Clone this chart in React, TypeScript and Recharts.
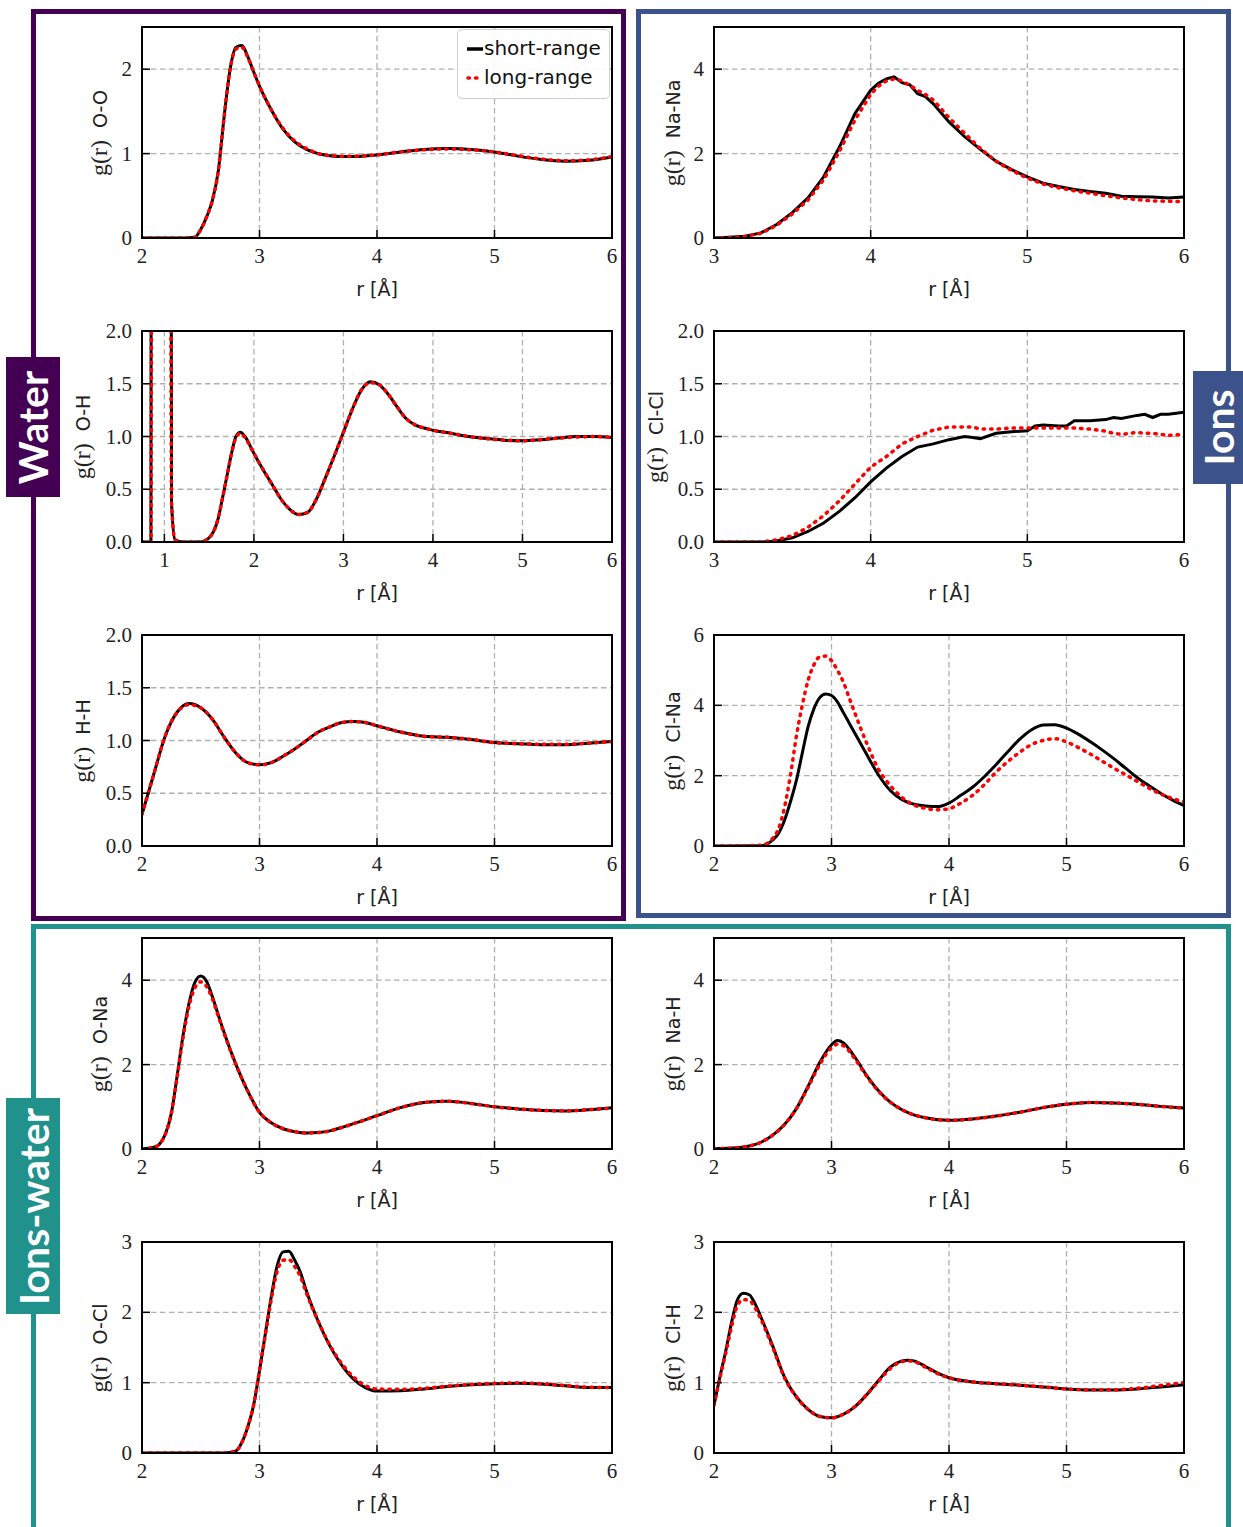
import { LineChart, Line, XAxis, YAxis, CartesianGrid } from 'recharts';

// ---- data: radial distribution functions g(r), short-range vs long-range model ----

const ooR = [2.0, 2.3, 2.45, 2.5, 2.55, 2.6, 2.65, 2.7, 2.75, 2.8, 2.85, 2.9, 2.95, 3.0, 3.1, 3.2, 3.3, 3.4, 3.5, 3.6, 3.7, 3.8, 4.0, 4.2, 4.4, 4.6, 4.8, 5.0, 5.2, 5.4, 5.6, 5.8, 6.0];
const ooShort = [0, 0, 0.01, 0.1, 0.25, 0.45, 0.8, 1.45, 2.0, 2.26, 2.28, 2.15, 1.97, 1.8, 1.52, 1.29, 1.14, 1.05, 1.0, 0.975, 0.965, 0.965, 0.985, 1.02, 1.05, 1.06, 1.05, 1.02, 0.97, 0.93, 0.91, 0.92, 0.96];
const ooLong = [0, 0, 0.01, 0.1, 0.25, 0.45, 0.8, 1.45, 2.0, 2.24, 2.26, 2.14, 1.97, 1.8, 1.52, 1.3, 1.15, 1.06, 1.0, 0.975, 0.97, 0.97, 0.985, 1.02, 1.045, 1.055, 1.045, 1.02, 0.975, 0.935, 0.915, 0.925, 0.965];

const ohR = [0.75, 0.85, 0.88, 0.95, 1.0, 1.05, 1.08, 1.12, 1.2, 1.3, 1.4, 1.45, 1.5, 1.55, 1.6, 1.65, 1.7, 1.75, 1.8, 1.85, 1.9, 2.0, 2.1, 2.2, 2.3, 2.4, 2.5, 2.6, 2.7, 2.8, 2.9, 3.0, 3.1, 3.2, 3.3, 3.4, 3.5, 3.6, 3.7, 3.8, 3.9, 4.0, 4.2, 4.4, 4.6, 4.8, 5.0, 5.2, 5.4, 5.6, 5.8, 6.0];
const ohShort = [0, 0, 40, 90, 70, 20, 0.37, 0.02, 0, 0, 0, 0.01, 0.04, 0.1, 0.22, 0.42, 0.63, 0.84, 1.0, 1.04, 1.0, 0.84, 0.69, 0.55, 0.41, 0.31, 0.26, 0.28, 0.41, 0.61, 0.82, 1.04, 1.26, 1.44, 1.52, 1.49, 1.4, 1.28, 1.17, 1.11, 1.08, 1.06, 1.03, 1.0, 0.98, 0.965, 0.96, 0.97, 0.985, 1.0, 1.0, 0.99];
const ohLong = [0, 0, 40, 90, 70, 20, 0.37, 0.02, 0, 0, 0, 0.01, 0.04, 0.1, 0.22, 0.42, 0.63, 0.84, 0.99, 1.03, 0.99, 0.84, 0.69, 0.55, 0.41, 0.31, 0.26, 0.28, 0.41, 0.61, 0.82, 1.04, 1.26, 1.44, 1.51, 1.49, 1.4, 1.28, 1.17, 1.11, 1.08, 1.06, 1.03, 1.0, 0.98, 0.965, 0.96, 0.97, 0.985, 0.995, 1.0, 0.99];

const hhR = [2.0, 2.1, 2.2, 2.3, 2.4, 2.5, 2.6, 2.7, 2.8, 2.9, 3.0, 3.1, 3.2, 3.3, 3.4, 3.5, 3.6, 3.7, 3.8, 3.9, 4.0, 4.2, 4.4, 4.6, 4.8, 5.0, 5.2, 5.4, 5.6, 5.8, 6.0];
const hhShort = [0.3, 0.68, 1.05, 1.27, 1.35, 1.31, 1.2, 1.03, 0.88, 0.79, 0.77, 0.79, 0.85, 0.92, 1.0, 1.08, 1.13, 1.17, 1.18, 1.17, 1.14, 1.08, 1.04, 1.03, 1.01, 0.98, 0.97, 0.96, 0.96, 0.975, 0.99];
const hhLong = [0.3, 0.68, 1.05, 1.27, 1.34, 1.31, 1.2, 1.03, 0.88, 0.79, 0.77, 0.79, 0.85, 0.92, 1.0, 1.08, 1.13, 1.17, 1.18, 1.17, 1.14, 1.08, 1.04, 1.03, 1.01, 0.98, 0.97, 0.965, 0.965, 0.975, 0.99];

const nanaR = [3.0, 3.1, 3.2, 3.3, 3.4, 3.5, 3.6, 3.7, 3.8, 3.9, 4.0, 4.05, 4.1, 4.15, 4.2, 4.25, 4.3, 4.35, 4.4, 4.5, 4.6, 4.7, 4.8, 4.9, 5.0, 5.1, 5.2, 5.3, 5.4, 5.5, 5.6, 5.7, 5.8, 5.9, 6.0];
const nanaShort = [0, 0.02, 0.04, 0.12, 0.32, 0.6, 0.95, 1.45, 2.15, 2.95, 3.5, 3.67, 3.77, 3.82, 3.68, 3.63, 3.42, 3.35, 3.18, 2.75, 2.4, 2.1, 1.82, 1.62, 1.45, 1.3, 1.22, 1.15, 1.1, 1.06, 0.99, 0.98, 0.97, 0.95, 0.97];
const nanaLong = [0, 0.01, 0.04, 0.11, 0.3, 0.57, 0.9, 1.38, 2.05, 2.8, 3.4, 3.6, 3.72, 3.77, 3.72, 3.62, 3.5, 3.4, 3.27, 2.85, 2.48, 2.12, 1.82, 1.6, 1.42, 1.28, 1.19, 1.12, 1.06, 1.0, 0.95, 0.91, 0.88, 0.87, 0.86];

const clclR = [3.0, 3.3, 3.4, 3.5, 3.6, 3.7, 3.8, 3.9, 4.0, 4.1, 4.2, 4.3, 4.4, 4.5, 4.6, 4.65, 4.7, 4.8, 4.9, 5.0, 5.05, 5.1, 5.2, 5.25, 5.3, 5.4, 5.5, 5.55, 5.6, 5.7, 5.75, 5.8, 5.85, 5.9, 6.0];
const clclShort = [0, 0, 0.01, 0.04, 0.1, 0.18, 0.29, 0.42, 0.57, 0.7, 0.81, 0.9, 0.93, 0.97, 1.0, 0.99, 0.98, 1.03, 1.045, 1.055, 1.1, 1.11, 1.1, 1.1, 1.15, 1.15, 1.16, 1.18, 1.17, 1.2, 1.21, 1.18, 1.21, 1.21, 1.23];
const clclLong = [0, 0, 0.02, 0.06, 0.14, 0.25, 0.39, 0.55, 0.71, 0.81, 0.93, 1.0, 1.06, 1.09, 1.09, 1.09, 1.07, 1.07, 1.08, 1.08, 1.08, 1.08, 1.08, 1.08, 1.08, 1.07, 1.05, 1.03, 1.02, 1.04, 1.03, 1.03, 1.02, 1.01, 1.02];

const clnaR = [2.0, 2.4, 2.45, 2.5, 2.55, 2.6, 2.65, 2.7, 2.75, 2.8, 2.85, 2.9, 2.95, 3.0, 3.05, 3.1, 3.15, 3.2, 3.3, 3.4, 3.5, 3.6, 3.7, 3.8, 3.9, 4.0, 4.1, 4.2, 4.3, 4.4, 4.5, 4.6, 4.7, 4.8, 4.9, 5.0, 5.1, 5.2, 5.3, 5.4, 5.5, 5.6, 5.7, 5.8, 5.9, 6.0];
const clnaShort = [0, 0.01, 0.05, 0.17, 0.36, 0.73, 1.25, 1.85, 2.62, 3.38, 3.9, 4.22, 4.32, 4.28, 4.1, 3.8, 3.5, 3.2, 2.6, 2.02, 1.58, 1.32, 1.19, 1.14, 1.12, 1.22, 1.44, 1.67, 1.97, 2.31, 2.68, 3.03, 3.3, 3.44, 3.45, 3.35, 3.18, 2.97, 2.74, 2.49, 2.22, 1.95, 1.72, 1.5, 1.31, 1.15];
const clnaLong = [0, 0.02, 0.07, 0.22, 0.5, 1.1, 2.0, 3.1, 3.98, 4.7, 5.15, 5.38, 5.4, 5.27, 5.0, 4.67, 4.22, 3.77, 2.92, 2.18, 1.72, 1.38, 1.17, 1.07, 1.03, 1.06, 1.22, 1.44, 1.74, 2.1, 2.4, 2.66, 2.88, 3.0, 3.05, 2.96, 2.8, 2.62, 2.42, 2.22, 2.03, 1.84, 1.65, 1.48, 1.35, 1.25];

const onaR = [2.0, 2.1, 2.15, 2.2, 2.25, 2.3, 2.35, 2.4, 2.45, 2.5, 2.55, 2.6, 2.65, 2.7, 2.8, 2.9, 3.0, 3.1, 3.2, 3.3, 3.4, 3.5, 3.6, 3.7, 3.8, 4.0, 4.2, 4.4, 4.6, 4.8, 5.0, 5.2, 5.4, 5.6, 5.8, 6.0];
const onaShort = [0, 0.04, 0.12, 0.36, 0.85, 1.75, 2.7, 3.45, 3.95, 4.1, 3.97, 3.6, 3.17, 2.75, 2.0, 1.37, 0.87, 0.62, 0.48, 0.41, 0.38, 0.39, 0.43, 0.51, 0.6, 0.79, 0.98, 1.1, 1.13, 1.08, 1.0, 0.95, 0.91, 0.9, 0.93, 0.98];
const onaLong = [0, 0.04, 0.12, 0.36, 0.85, 1.72, 2.65, 3.38, 3.82, 3.96, 3.85, 3.55, 3.14, 2.73, 2.0, 1.37, 0.87, 0.62, 0.48, 0.41, 0.38, 0.39, 0.43, 0.51, 0.6, 0.79, 0.98, 1.1, 1.13, 1.08, 1.0, 0.95, 0.915, 0.905, 0.93, 0.97];

const nahR = [2.0, 2.2, 2.3, 2.4, 2.5, 2.6, 2.7, 2.8, 2.9, 3.0, 3.05, 3.1, 3.2, 3.3, 3.4, 3.5, 3.6, 3.7, 3.8, 4.0, 4.2, 4.4, 4.6, 4.8, 5.0, 5.2, 5.4, 5.6, 5.8, 6.0];
const nahShort = [0.01, 0.03, 0.07, 0.16, 0.33, 0.58, 0.95, 1.48, 2.05, 2.47, 2.57, 2.52, 2.17, 1.74, 1.38, 1.11, 0.93, 0.81, 0.74, 0.68, 0.71, 0.78, 0.87, 0.98, 1.06, 1.1, 1.09, 1.06, 1.01, 0.97];
const nahLong = [0.01, 0.03, 0.07, 0.16, 0.33, 0.58, 0.95, 1.46, 2.0, 2.4, 2.48, 2.45, 2.13, 1.72, 1.37, 1.11, 0.93, 0.81, 0.74, 0.68, 0.71, 0.78, 0.87, 0.98, 1.06, 1.1, 1.09, 1.06, 1.01, 0.97];

const oclR = [2.0, 2.7, 2.8, 2.85, 2.9, 2.95, 3.0, 3.05, 3.1, 3.15, 3.2, 3.25, 3.3, 3.35, 3.4, 3.5, 3.6, 3.7, 3.8, 3.9, 4.0, 4.2, 4.4, 4.6, 4.8, 5.0, 5.2, 5.4, 5.6, 5.8, 6.0];
const oclShort = [0, 0, 0.03, 0.15, 0.37, 0.68, 1.17, 1.7, 2.22, 2.66, 2.86, 2.87, 2.74, 2.56, 2.3, 1.87, 1.52, 1.25, 1.05, 0.93, 0.88, 0.885, 0.91, 0.945, 0.97, 0.985, 0.99, 0.98, 0.955, 0.93, 0.93];
const oclLong = [0, 0, 0.03, 0.15, 0.37, 0.68, 1.17, 1.68, 2.18, 2.58, 2.74, 2.75, 2.65, 2.5, 2.27, 1.87, 1.53, 1.27, 1.08, 0.96, 0.91, 0.905, 0.92, 0.95, 0.975, 0.99, 0.995, 0.985, 0.96, 0.935, 0.93];

const clhR = [2.0, 2.05, 2.1, 2.15, 2.2, 2.25, 2.3, 2.35, 2.4, 2.5, 2.6, 2.7, 2.8, 2.9, 3.0, 3.1, 3.2, 3.3, 3.4, 3.5, 3.6, 3.65, 3.7, 3.8, 3.9, 4.0, 4.2, 4.4, 4.6, 4.8, 5.0, 5.2, 5.4, 5.6, 5.8, 6.0];
const clhShort = [0.68, 1.08, 1.45, 1.86, 2.18, 2.27, 2.25, 2.12, 1.93, 1.52, 1.08, 0.8, 0.62, 0.52, 0.5, 0.55, 0.66, 0.83, 1.03, 1.22, 1.31, 1.32, 1.31, 1.23, 1.14, 1.07, 1.01, 0.985, 0.965, 0.94, 0.91, 0.895, 0.895, 0.91, 0.94, 0.97];
const clhLong = [0.68, 1.06, 1.42, 1.8, 2.1, 2.18, 2.17, 2.06, 1.9, 1.5, 1.07, 0.8, 0.62, 0.52, 0.5, 0.55, 0.66, 0.83, 1.02, 1.2, 1.3, 1.31, 1.3, 1.22, 1.13, 1.07, 1.01, 0.985, 0.965, 0.94, 0.91, 0.9, 0.9, 0.92, 0.96, 1.0];

// ---- layout ----
const PW = 470;
const PH = 211;
const YW = 70;
const MT = 20;
const MR = 14;
const XH = 40;

const LEFT_COL = 142;
const RIGHT_COL = 714;
const ROWS = [27, 331, 635, 938, 1242];

const SERIF = '"Liberation Serif", "Times New Roman", serif';
const SANS = '"DejaVu Sans", sans-serif';
const tickLine = { stroke: '#000', strokeWidth: 1.5 };

// axis tick labels in a serif face, like the matplotlib original
function makeTick(axis: 'x' | 'y', fmt: (v: number) => string) {
  return (props: any) => {
    const { x, y, payload } = props;
    return (
      <text
        x={x}
        y={y}
        dy={axis === 'x' ? '0.72em' : '0.34em'}
        textAnchor={axis === 'x' ? 'middle' : 'end'}
        fill="#222"
        style={{ fontFamily: SERIF, fontSize: 21 }}
      >
        {fmt(payload.value)}
      </text>
    );
  };
}

interface PanelProps {
  left: number;
  top: number;
  pair: string;
  r: number[];
  shortRange: number[];
  longRange: number[];
  xDomain: [number, number];
  xTicks: number[];
  yDomain: [number, number];
  yTicks: number[];
  decimals?: boolean;
  labelOffset: number;
  curve?: 'monotone' | 'linear';
}

function Panel(p: PanelProps) {
  const data = p.r.map((r, i) => ({ r, short: p.shortRange[i], long: p.longRange[i] }));
  const yFmt = (v: number) => (p.decimals ? v.toFixed(1) : String(v));
  const curve = p.curve || 'monotone';
  return (
    <>
      <div style={{ position: 'absolute', left: p.left - YW, top: p.top - MT }}>
        <LineChart width={PW + YW + MR} height={PH + MT + XH} data={data} margin={{ top: MT, right: MR, left: 0, bottom: 0 }}>
          <CartesianGrid stroke="#b0b0b0" strokeDasharray="5.5 3.5" strokeWidth={1.3} />
          <XAxis
            type="number"
            dataKey="r"
            domain={p.xDomain}
            ticks={p.xTicks}
            allowDataOverflow
            interval={0}
            height={XH}
            axisLine={false}
            tickSize={-8}
            tickMargin={18}
            tickLine={tickLine}
            tick={makeTick('x', (v) => String(v))}
          />
          <YAxis
            type="number"
            domain={p.yDomain}
            ticks={p.yTicks}
            allowDataOverflow
            interval={0}
            width={YW}
            axisLine={false}
            tickSize={-8}
            tickMargin={18}
            tickLine={tickLine}
            tick={makeTick('y', yFmt)}
          />
          <Line dataKey="short" type={curve} stroke="#000" strokeWidth={3} dot={false} activeDot={false} isAnimationActive={false} />
          <Line
            dataKey="long"
            type={curve}
            stroke="#ff0000"
            strokeWidth={3.5}
            strokeDasharray="1.5 6"
            strokeLinecap="round"
            dot={false}
            activeDot={false}
            isAnimationActive={false}
          />
        </LineChart>
      </div>
      {/* plot frame */}
      <div style={{ position: 'absolute', left: p.left - 1, top: p.top - 1, width: PW + 2, height: PH + 2, border: '2px solid #000', boxSizing: 'border-box' }} />
      {/* x label */}
      <div style={{ position: 'absolute', left: p.left + PW / 2, top: p.top + PH + 51, transform: 'translate(-50%, -50%)', fontFamily: SANS, fontSize: 19, color: '#222', whiteSpace: 'nowrap' }}>
        r [Å]
      </div>
      {/* y label */}
      <div style={{ position: 'absolute', left: p.left - p.labelOffset, top: p.top + PH / 2, transform: 'translate(-50%, -50%) rotate(-90deg)', color: '#222', whiteSpace: 'nowrap' }}>
        <span style={{ fontFamily: SERIF, fontSize: 24 }}>g(r)</span>
        <span style={{ fontFamily: SANS, fontSize: 19 }}>{'\u00a0\u00a0' + p.pair}</span>
      </div>
    </>
  );
}

function GroupLabel({ text, left, top, width, height, color }: { text: string; left: number; top: number; width: number; height: number; color: string }) {
  return (
    <div style={{ position: 'absolute', left, top, width, height, background: color, display: 'flex', alignItems: 'center', justifyContent: 'center' }}>
      <span style={{ transform: 'rotate(-90deg)', whiteSpace: 'nowrap', color: '#fff', fontFamily: 'Lato, sans-serif', fontWeight: 700, fontSize: 41, lineHeight: 1 }}>{text}</span>
    </div>
  );
}

function Legend() {
  return (
    <div style={{ position: 'absolute', left: 457, top: 29, width: 153, height: 70, border: '1.5px solid #cfcfcf', borderRadius: 5, background: 'rgba(255,255,255,0.9)', boxSizing: 'border-box', fontFamily: SANS, fontSize: 20, color: '#111' }}>
      <svg style={{ position: 'absolute', left: 8, top: 0 }} width={20} height={70}>
        <line x1={1} x2={17} y1={19} y2={19} stroke="#000" strokeWidth={3.5} />
        <line x1={2} x2={17} y1={48} y2={48} stroke="#ff0000" strokeWidth={3.5} strokeDasharray="1.5 6" strokeLinecap="round" />
      </svg>
      <div style={{ position: 'absolute', left: 26, top: 6, whiteSpace: 'nowrap' }}>short-range</div>
      <div style={{ position: 'absolute', left: 26, top: 35, whiteSpace: 'nowrap' }}>long-range</div>
    </div>
  );
}

const PURPLE = '#440154';
const BLUE = '#3b528b';
const TEAL = '#21918c';

export default function App() {
  return (
    <div style={{ position: 'absolute', left: 0, top: 0, width: 1243, height: 1527, overflow: 'hidden', background: '#fff' }}>
      {/* group boxes */}
      <div style={{ position: 'absolute', left: 31, top: 9, width: 595, height: 912, border: `5px solid ${PURPLE}`, boxSizing: 'border-box' }} />
      <div style={{ position: 'absolute', left: 636, top: 9, width: 595, height: 909, border: `5px solid ${BLUE}`, boxSizing: 'border-box' }} />
      <div style={{ position: 'absolute', left: 31, top: 924, width: 1200, height: 700, border: `5px solid ${TEAL}`, boxSizing: 'border-box' }} />

      {/* water */}
      <Panel left={LEFT_COL} top={ROWS[0]} pair="O-O" r={ooR} shortRange={ooShort} longRange={ooLong} xDomain={[2, 6]} xTicks={[2, 3, 4, 5, 6]} yDomain={[0, 2.5]} yTicks={[0, 1, 2]} labelOffset={43} />
      <Panel left={LEFT_COL} top={ROWS[1]} pair="O-H" r={ohR} shortRange={ohShort} longRange={ohLong} xDomain={[0.75, 6]} xTicks={[1, 2, 3, 4, 5, 6]} yDomain={[0, 2]} yTicks={[0, 0.5, 1, 1.5, 2]} decimals labelOffset={60} />
      <Panel left={LEFT_COL} top={ROWS[2]} pair="H-H" r={hhR} shortRange={hhShort} longRange={hhLong} xDomain={[2, 6]} xTicks={[2, 3, 4, 5, 6]} yDomain={[0, 2]} yTicks={[0, 0.5, 1, 1.5, 2]} decimals labelOffset={60} />

      {/* ions */}
      <Panel left={RIGHT_COL} top={ROWS[0]} pair="Na-Na" r={nanaR} shortRange={nanaShort} longRange={nanaLong} xDomain={[3, 6]} xTicks={[3, 4, 5, 6]} yDomain={[0, 5]} yTicks={[0, 2, 4]} labelOffset={42} curve="linear" />
      <Panel left={RIGHT_COL} top={ROWS[1]} pair="Cl-Cl" r={clclR} shortRange={clclShort} longRange={clclLong} xDomain={[3, 6]} xTicks={[3, 4, 5, 6]} yDomain={[0, 2]} yTicks={[0, 0.5, 1, 1.5, 2]} decimals labelOffset={59} curve="linear" />
      <Panel left={RIGHT_COL} top={ROWS[2]} pair="Cl-Na" r={clnaR} shortRange={clnaShort} longRange={clnaLong} xDomain={[2, 6]} xTicks={[2, 3, 4, 5, 6]} yDomain={[0, 6]} yTicks={[0, 2, 4, 6]} labelOffset={42} />

      {/* ions-water */}
      <Panel left={LEFT_COL} top={ROWS[3]} pair="O-Na" r={onaR} shortRange={onaShort} longRange={onaLong} xDomain={[2, 6]} xTicks={[2, 3, 4, 5, 6]} yDomain={[0, 5]} yTicks={[0, 2, 4]} labelOffset={43} />
      <Panel left={RIGHT_COL} top={ROWS[3]} pair="Na-H" r={nahR} shortRange={nahShort} longRange={nahLong} xDomain={[2, 6]} xTicks={[2, 3, 4, 5, 6]} yDomain={[0, 5]} yTicks={[0, 2, 4]} labelOffset={42} />
      <Panel left={LEFT_COL} top={ROWS[4]} pair="O-Cl" r={oclR} shortRange={oclShort} longRange={oclLong} xDomain={[2, 6]} xTicks={[2, 3, 4, 5, 6]} yDomain={[0, 3]} yTicks={[0, 1, 2, 3]} labelOffset={43} />
      <Panel left={RIGHT_COL} top={ROWS[4]} pair="Cl-H" r={clhR} shortRange={clhShort} longRange={clhLong} xDomain={[2, 6]} xTicks={[2, 3, 4, 5, 6]} yDomain={[0, 3]} yTicks={[0, 1, 2, 3]} labelOffset={42} />

      <Legend />

      <GroupLabel text="Water" left={6} top={357} width={54} height={140} color={PURPLE} />
      <GroupLabel text="Ions" left={1193} top={371} width={50} height={113} color={BLUE} />
      <GroupLabel text="Ions-water" left={6} top={1098} width={54} height={216} color={TEAL} />
    </div>
  );
}
